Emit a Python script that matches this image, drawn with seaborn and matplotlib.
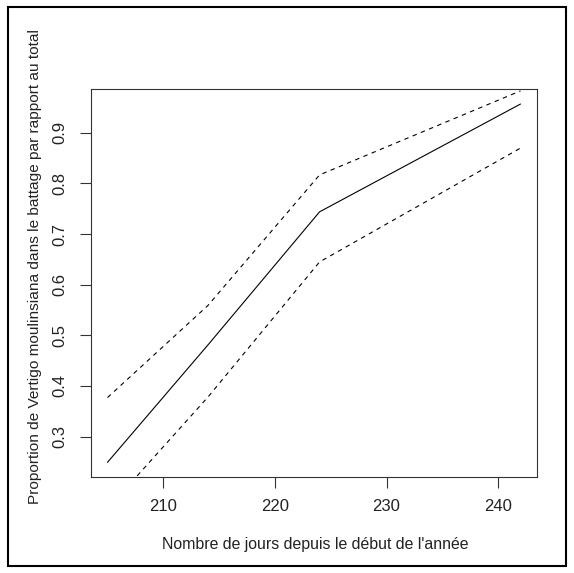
import matplotlib
matplotlib.use("Agg")
import matplotlib.pyplot as plt
import seaborn as sns
import pandas as pd
from matplotlib.patches import Rectangle

# Data
days = [205, 214, 224, 242]
fit = [0.249, 0.481, 0.744, 0.957]
upper = [0.377, 0.559, 0.817, 0.983]
lower = [0.157, 0.378, 0.645, 0.870]
x_ticks = [210, 220, 230, 240]
y_ticks = [0.3, 0.4, 0.5, 0.6, 0.7, 0.8, 0.9]
xlabel = "Nombre de jours depuis le début de l'année"
ylabel = "Proportion de Vertigo moulinsiana dans le battage par rapport au total"

sns.set_theme(style="white")
plt.rcParams['font.family'] = ['Liberation Sans', 'DejaVu Sans']

fig = plt.figure(figsize=(5.74, 5.73), dpi=100)
ax = fig.add_axes([91/574, 1-477/573, (537-91)/574, (477-89)/573])

df = pd.DataFrame({
    "day": days * 3,
    "value": fit + upper + lower,
    "serie": ["fit"] * 4 + ["upper"] * 4 + ["lower"] * 4,
})

sns.lineplot(data=df, x="day", y="value", hue="serie", style="serie",
             palette={"fit": "black", "upper": "black", "lower": "black"},
             dashes={"fit": "", "upper": (4, 4), "lower": (4, 4)},
             linewidth=0.8, legend=False, ax=ax, sort=True, estimator=None)

# R-style 4% extension
xr = max(days) - min(days)
ax.set_xlim(min(days) - 0.04 * xr, max(days) + 0.04 * xr)
yr = max(fit) - min(fit)
ax.set_ylim(min(fit) - 0.041 * yr, max(fit) + 0.042 * yr)

ax.set_xticks(x_ticks)
ax.set_xticklabels([str(t) for t in x_ticks])
ax.set_yticks(y_ticks)
ax.set_yticklabels([f"{t:.1f}" for t in y_ticks])
ax.tick_params(axis='both', which='major', direction='out', length=8, width=0.8,
               color='#333333', labelsize=12, labelcolor='#222222', pad=8,
               bottom=True, left=True)
ax.tick_params(axis='y', labelrotation=90, pad=9)
for lab in ax.get_yticklabels():
    lab.set_va('center')

for s in ax.spines.values():
    s.set_visible(True)
    s.set_color('#333333')
    s.set_linewidth(0.8)

ax.set_xlabel("")
ax.set_ylabel("")
fig.text(315/574, 1-545/573, xlabel, ha='center', va='center', fontsize=11.4, color='#222222')
fig.text(35/574, 1-266/573, ylabel, ha='center', va='center', rotation=90,
         fontsize=11.1, color='#222222')

# outer frame
fig.patches.append(Rectangle((8/574, 1-566/573), (566-8)/574, (566-7)/573,
                             transform=fig.transFigure, fill=False,
                             edgecolor='black', linewidth=1.5))

fig.savefig("out.png", dpi=100)
